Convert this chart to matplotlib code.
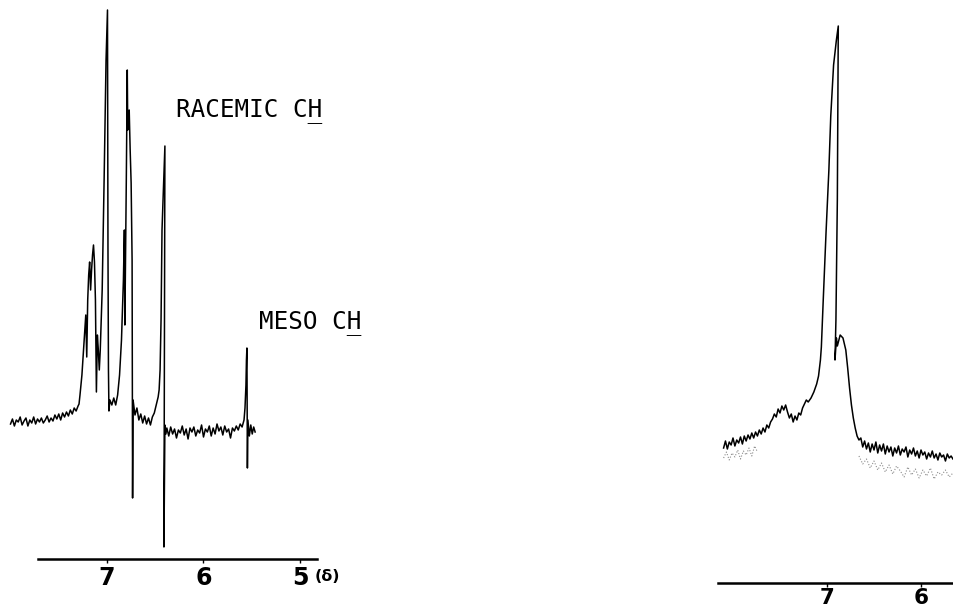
import numpy as np
import matplotlib
matplotlib.use("Agg")
import matplotlib.pyplot as plt

# left spectrum (ppm, pen deflection in arbitrary units)
left_ppm = [8.00, 7.98, 7.96, 7.94, 7.92, 7.90, 7.88, 7.86, 7.84, 7.82, 7.80, 7.78, 7.76, 7.74,
            7.72, 7.70, 7.68, 7.66, 7.64, 7.62, 7.60, 7.58, 7.56, 7.54, 7.52, 7.50, 7.48, 7.46,
            7.44, 7.42, 7.40, 7.38, 7.36, 7.34, 7.32, 7.30,
            7.29, 7.28, 7.26, 7.24, 7.23, 7.22, 7.21, 7.20, 7.19, 7.18, 7.17, 7.16, 7.15, 7.14,
            7.13, 7.12, 7.11, 7.10, 7.09, 7.08, 7.07, 7.05, 7.03, 7.01, 6.995, 6.99, 6.985, 6.98,
            6.97, 6.95, 6.93, 6.91, 6.89, 6.87, 6.85, 6.83, 6.82, 6.815, 6.80, 6.79, 6.785, 6.78,
            6.77, 6.76, 6.75, 6.74, 6.735, 6.73,
            6.71, 6.69, 6.67, 6.65, 6.63, 6.61, 6.59, 6.57, 6.55, 6.53, 6.51, 6.49, 6.47,
            6.46, 6.45, 6.44, 6.43, 6.40, 6.41, 6.40, 6.39,
            6.38, 6.36, 6.34, 6.32, 6.30, 6.28, 6.26, 6.24, 6.22, 6.20, 6.18, 6.16, 6.14, 6.12,
            6.10, 6.08, 6.06, 6.04, 6.02, 6.00, 5.98, 5.96, 5.94, 5.92, 5.90, 5.88, 5.86, 5.84,
            5.82, 5.80, 5.78, 5.76, 5.74, 5.72, 5.70, 5.68, 5.66, 5.64, 5.62, 5.60,
            5.58, 5.57, 5.56, 5.555, 5.55, 5.545, 5.54, 5.525, 5.51, 5.495, 5.48, 5.465]
left_int = [6, 11, 4, 10, 8, 13, 5, 9, 12, 4, 10, 7, 13, 6,
            11, 8, 12, 7, 10, 14, 8, 12, 9, 15, 11, 16, 10, 17,
            13, 18, 14, 20, 16, 22, 19, 24,
            26, 35, 55, 85, 100, 115, 73, 130, 155, 168, 140, 160, 175, 185,
            168, 130, 38, 95, 80, 60, 80, 140, 250, 370, 420, 180, 60, 19,
            30, 25, 32, 25, 35, 55, 90, 150, 200, 105, 250, 360, 300, 310,
            320, 280, 247, 170, -68, 30,
            15, 22, 10, 16, 7, 14, 6, 12, 5, 13, 17, 25, 33,
            40, 60, 110, 200, 284, -117, 5, -4,
            2, -6, 3, -4, 1, -8, 0, -3, 4, -5, 1, -9, 2, -2,
            3, -6, 0, -3, 5, -7, 1, -2, 4, -6, 2, -4, 6, -1,
            3, -5, 4, -2, 1, -8, 2, -1, 4, 0, 6, 3,
            10, 22, 45, 70, 82, -38, 10, -6, 5, -4, 3, -2]

# right spectrum
right_ppm = [8.10, 8.08, 8.06, 8.04, 8.02, 8.00, 7.98, 7.96, 7.94, 7.92, 7.90, 7.88, 7.86, 7.84,
             7.82, 7.80, 7.78, 7.76, 7.74, 7.72, 7.70, 7.68, 7.66, 7.64, 7.62, 7.60, 7.58, 7.56,
             7.54, 7.52, 7.50, 7.48, 7.46, 7.44, 7.42, 7.40, 7.38, 7.36, 7.34, 7.32, 7.30, 7.28,
             7.26, 7.24, 7.22, 7.20, 7.17, 7.14, 7.11, 7.09, 7.07, 7.06, 7.04, 7.01, 6.98, 6.96,
             6.93, 6.90, 6.88, 6.89, 6.905, 6.915, 6.90, 6.89, 6.86, 6.83, 6.80, 6.78, 6.76, 6.74,
             6.72, 6.70, 6.68, 6.66,
             6.64, 6.62, 6.60, 6.58, 6.56, 6.54, 6.52, 6.50, 6.48, 6.46, 6.44, 6.42, 6.40, 6.38,
             6.36, 6.34, 6.32, 6.30, 6.28, 6.26, 6.24, 6.22, 6.20, 6.18, 6.16, 6.14, 6.12, 6.10,
             6.08, 6.06, 6.04, 6.02, 6.00, 5.98, 5.96, 5.94, 5.92, 5.90, 5.88, 5.86, 5.84, 5.82,
             5.80, 5.78, 5.76, 5.74, 5.72, 5.70, 5.68, 5.66]
right_int = [2, 9, 1, 8, 5, 12, 4, 10, 7, 13, 6, 14, 9, 15,
             11, 17, 12, 18, 14, 20, 16, 22, 18, 25, 22, 28, 31, 36,
             33, 41, 37, 44, 40, 45, 38, 32, 36, 28, 34, 30, 37, 35,
             42, 46, 50, 48, 52, 58, 66, 74, 90, 103, 150, 218, 280, 334,
             385, 410, 424, 250, 130, 90, 112, 104, 115, 112, 100, 82, 62, 45,
             32, 22, 14, 10,
             12, 3, 9, 1, 7, -2, 6, 0, 8, -3, 5, -1, 6, -4,
             4, -2, 3, -6, 2, -3, 4, -5, 1, -2, 3, -7, 0, -4,
             2, -6, -1, -8, 0, -5, -2, -9, -3, -7, -1, -8, -4, -10,
             -3, -7, -5, -11, -4, -8, -6, -9]

# faint second pen trace under the right baseline
ghost_a_ppm = [8.10, 8.07, 8.04, 8.01, 7.98, 7.95, 7.92, 7.89, 7.86, 7.83, 7.80, 7.77, 7.74]
ghost_a_int = [-8, -2, -10, -3, -7, 0, -9, -1, -5, 2, -6, 4, -2]
ghost_b_ppm = [6.66, 6.62, 6.58, 6.54, 6.50, 6.46, 6.42, 6.38, 6.34, 6.30, 6.26, 6.22, 6.18,
               6.14, 6.10, 6.06, 6.02, 5.98, 5.94, 5.90, 5.86, 5.82, 5.78, 5.74, 5.70, 5.66]
ghost_b_int = [-6, -14, -9, -18, -11, -20, -13, -22, -15, -24, -16, -21, -27, -17, -25, -19,
               -28, -20, -26, -18, -29, -22, -25, -20, -27, -23]

left_ticks = [7, 6, 5]
right_ticks = [7, 6]

W, H = 954, 607
fig = plt.figure(figsize=(W / 100, H / 100), dpi=100)
fig.patch.set_facecolor("white")


def spectrum_axes(rect, xlim, ylim, spine_from, spine_to, ticks, size, pad):
    ax = fig.add_axes(rect)
    ax.set_xlim(*xlim)
    ax.set_ylim(*ylim)
    ax.patch.set_visible(False)
    for s in ["top", "left", "right"]:
        ax.spines[s].set_visible(False)
    ax.spines["bottom"].set_linewidth(1.8)
    ax.spines["bottom"].set_bounds(spine_from, spine_to)
    ax.set_yticks([])
    ax.set_xticks(ticks)
    ax.set_xticklabels([str(t) for t in ticks])
    ax.tick_params(axis="x", direction="out", length=3, width=1, pad=pad, labelsize=size)
    for lab in ax.get_xticklabels():
        lab.set_fontweight("bold")
    return ax


# left chart: 96.5 px per ppm, "7" at x=107 px, axis at y=559 px
axL = spectrum_axes([0, (H - 559) / H, 330 / W, 559 / H], (8.109, 4.689), (-129, 430),
                    7.72, 4.82, left_ticks, 17, 2)
axL.plot(left_ppm, left_int, color="black", lw=1.1)
axL.text(4.715, -0.017, "(δ)", transform=axL.get_xaxis_transform(), fontsize=11.5,
         fontweight="bold", ha="center", va="top")

# right chart: 94 px per ppm, "7" at x=827 px, axis at y=583 px
axR = spectrum_axes([700 / W, (H - 583) / H, 254 / W, 583 / H], (8.351, 5.649), (-133, 450),
                    8.16, 5.649, right_ticks, 15.5, 0.5)
axR.plot(ghost_a_ppm, ghost_a_int, color="0.55", lw=0.8, ls=":")
axR.plot(ghost_b_ppm, ghost_b_int, color="0.55", lw=0.8, ls=":")
axR.plot(right_ppm, right_int, color="black", lw=1.1)

# labels, typewriter style, with the H underlined
mono = "DejaVu Sans Mono"
fig.text(176 / W, 1 - 117 / H, "RACEMIC CH", family=mono, fontsize=17.5, va="baseline")
fig.text(176 / W, 1 - 117 / H, "         _", family=mono, fontsize=17.5, va="baseline")
fig.text(259 / W, 1 - 329 / H, "MESO CH", family=mono, fontsize=17.5, va="baseline")
fig.text(259 / W, 1 - 329 / H, "      _", family=mono, fontsize=17.5, va="baseline")

fig.savefig("out.png", dpi=100, facecolor="white")
